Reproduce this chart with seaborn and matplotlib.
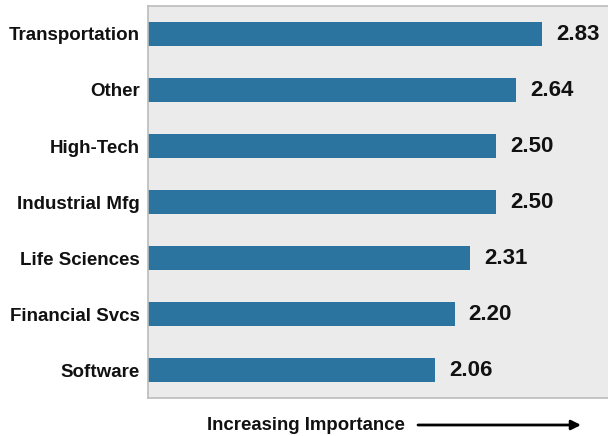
import matplotlib
matplotlib.use("Agg")
import matplotlib.pyplot as plt
import seaborn as sns
import pandas as pd

industries = ["Transportation", "Other", "High-Tech", "Industrial Mfg",
              "Life Sciences", "Financial Svcs", "Software"]
scores = [2.83, 2.64, 2.50, 2.50, 2.31, 2.20, 2.06]

df = pd.DataFrame({"industry": industries, "score": scores})

sns.set_style("white", {"axes.facecolor": "#ebebeb"})
plt.rcParams["font.family"] = ["Liberation Sans", "DejaVu Sans"]

W, H = 608, 436
fig = plt.figure(figsize=(W / 100, H / 100), dpi=100)
ax = fig.add_axes([148 / W, (H - 398) / H, 460 / W, 392 / H])

sns.barplot(data=df, x="score", y="industry", color="#2c74a0",
            saturation=1, width=0.44, linewidth=0, ax=ax)

ax.set_xlim(0, 3.30)
ax.set_xlabel("")
ax.set_ylabel("")
ax.set_xticks([])
ax.tick_params(axis="y", length=0, pad=6)
for lab in ax.get_yticklabels():
    lab.set_fontweight("bold")
    lab.set_fontsize(13.5)
    lab.set_color("#111111")

for c in ax.containers:
    ax.bar_label(c, fmt="%.2f", padding=10, fontsize=16,
                 fontweight="bold", color="#111111")

for side in ["left", "top", "bottom"]:
    ax.spines[side].set_visible(True)
    ax.spines[side].set_color("#bbbbbb")
    ax.spines[side].set_linewidth(1.2)
ax.spines["right"].set_visible(False)

fig.text(305.5 / W, 1 - 425 / H, "Increasing Importance", ha="center",
         va="center", fontsize=13.4, fontweight="bold", color="#111111")
fig.add_artist(matplotlib.patches.FancyArrowPatch(
    (418 / W, 1 - 425 / H), (581 / W, 1 - 425 / H),
    transform=fig.transFigure, arrowstyle="-|>", mutation_scale=14,
    linewidth=2, color="black", shrinkA=0, shrinkB=0))

fig.savefig("out.png", dpi=100)
